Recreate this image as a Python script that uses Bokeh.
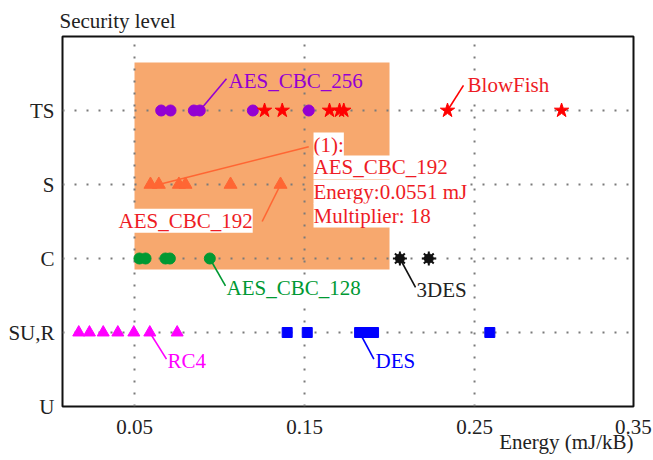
from bokeh.plotting import figure
from bokeh.models import Range1d, FixedTicker, Label, Title
from bokeh.embed import file_html
from bokeh.resources import INLINE

# ---------------- data ----------------
level_names = ["U", "SU,R", "C", "S", "TS"]
level_ticks = [0, 1, 2, 3, 4]
x_ticks = [0.05, 0.15, 0.25]
x_end_label = "0.35"

aes256_x = [0.0657, 0.0712, 0.0849, 0.0884, 0.1196, 0.1525]
aes256_lvl = 4
blowfish_x = [0.1265, 0.1369, 0.1647, 0.1706, 0.1731, 0.2341, 0.3012]
blowfish_lvl = 4
aes192_x = [0.0594, 0.0643, 0.0761, 0.0800, 0.1065, 0.1359]
aes192_lvl = 3
aes128_x = [0.0529, 0.0565, 0.0682, 0.0708, 0.0943]
aes128_lvl = 2
des3_x = [0.2061, 0.2231]
des3_lvl = 2
rc4_x = [0.0172, 0.0235, 0.0316, 0.0402, 0.0496, 0.0590, 0.0751]
rc4_lvl = 1
des_x = [0.1398, 0.1516, 0.1824, 0.1871, 0.1906, 0.2590]
des_lvl = 1

# highlighted region (energy range, level range)
region_x = [0.05, 0.2]
region_y = [1.85, 4.65]

x_start, x_end = 0.00765, 0.3435
y_start, y_end = 0, 5

SERIF = "Liberation Serif"
DARK = "#222222"

p = figure(width=653, height=460, output_backend="svg", toolbar_location=None,
           x_range=Range1d(x_start, x_end), y_range=Range1d(y_start, y_end),
           min_border_left=62, min_border_right=20, min_border_top=36, min_border_bottom=54,
           title="Security level")
p.title.align = "left"
p.title.text_font = SERIF
p.title.text_font_size = "21px"
p.title.text_font_style = "normal"
p.title.text_color = DARK
p.title.standoff = 8
p.title.offset = -3

xtitle = Title(text="Energy (mJ/kB)", align="right", vertical_align="bottom",
               text_font=SERIF, text_font_size="21px", text_font_style="normal",
               text_color=DARK, standoff=-18, offset=0)
p.add_layout(xtitle, "below")

p.background_fill_color = "white"
p.border_fill_color = "white"
p.outline_line_color = "#111111"
p.outline_line_width = 2
p.xgrid.visible = False
p.ygrid.visible = False

end_tick = x_end - 1e-6
p.xaxis.ticker = FixedTicker(ticks=x_ticks + [end_tick])
p.xaxis.major_label_overrides = {end_tick: x_end_label}
p.yaxis.ticker = FixedTicker(ticks=level_ticks)
p.yaxis.major_label_overrides = {t: n for t, n in zip(level_ticks, level_names)}
for ax in (p.xaxis[0], p.yaxis[0]):
    ax.axis_line_color = None
    ax.major_tick_line_color = None
    ax.minor_tick_line_color = None
    ax.major_label_text_font = SERIF
    ax.major_label_text_font_size = "21px"
    ax.major_label_text_color = DARK
p.xaxis.major_label_standoff = 7
p.yaxis.major_label_standoff = 2

# highlighted region
p.quad(left=[region_x[0]], right=[region_x[1]], bottom=[region_y[0]], top=[region_y[1]],
       fill_color="#F7A86E", line_color=None)

# dotted grid drawn above region
p.segment(x0=x_ticks, x1=x_ticks, y0=[y_start] * len(x_ticks), y1=[y_end] * len(x_ticks),
          line_color="#7a7a7a", line_width=2, line_dash="2 10")
hy = level_ticks[1:]
p.segment(x0=[x_start] * len(hy), x1=[x_end] * len(hy), y0=hy, y1=hy,
          line_color="#7a7a7a", line_width=2, line_dash="2 10")

# leader lines: (point x, point level, label-end x, label-end y, color)
leaders = [
    (aes256_x[3], aes256_lvl, 0.1041, 4.43, "#9400D3"),
    (aes192_x[1], aes192_lvl, 0.1525, 3.51, "#FF6633"),
    (aes192_x[5], aes192_lvl, 0.1251, 2.50, "#FF6633"),
    (aes128_x[4], aes128_lvl, 0.1035, 1.63, "#009933"),
    (des3_x[0], des3_lvl, 0.2153, 1.61, "#111111"),
    (blowfish_x[5], blowfish_lvl, 0.2435, 4.34, "#FF0000"),
    (rc4_x[5], rc4_lvl, 0.0688, 0.64, "#FF00FF"),
    (des_x[2], des_lvl, 0.1908, 0.64, "#0000FF"),
]
for px, py, lx, ly, c in leaders:
    p.segment(x0=[px], y0=[py], x1=[lx], y1=[ly], line_color=c, line_width=1.6)

# markers
p.scatter(aes256_x, [aes256_lvl] * len(aes256_x), marker="circle", size=11,
          fill_color="#9400D3", line_color="#9400D3")
p.scatter(blowfish_x, [blowfish_lvl] * len(blowfish_x), marker="star", size=15,
          fill_color="#FF0000", line_color="#FF0000")
p.scatter(aes192_x, [aes192_lvl] * len(aes192_x), marker="triangle", size=13,
          fill_color="#FF6633", line_color="#FF6633")
p.scatter(aes128_x, [aes128_lvl] * len(aes128_x), marker="circle", size=11,
          fill_color="#009933", line_color="#009933")
p.scatter(des3_x, [des3_lvl] * len(des3_x), marker="circle", size=9,
          fill_color="#111111", line_color="#111111")
p.scatter(des3_x, [des3_lvl] * len(des3_x), marker="asterisk", size=14,
          line_color="#111111", line_width=2)
p.scatter(rc4_x, [rc4_lvl] * len(rc4_x), marker="triangle", size=12,
          fill_color="#FF00FF", line_color="#FF00FF")
p.scatter(des_x, [des_lvl] * len(des_x), marker="square", size=10,
          fill_color="#0000FF", line_color="#0000FF")

def lab(x, y, text, color, bg=True, align="left", size="21px"):
    kw = dict(x=x, y=y, text=text, text_font=SERIF, text_font_size=size,
              text_color=color, text_baseline="middle", text_align=align)
    if bg:
        kw["background_fill_color"] = "white"
    p.add_layout(Label(**kw))

RED = "#EE1C25"
lab(0.1053, 4.40, "AES_CBC_256", "#9400D3", bg=False)
lab(0.2459, 4.35, "BlowFish", RED)
lab(0.1553, 3.54, "(1):", RED)
lab(0.1553, 3.23, "AES_CBC_192", RED)
lab(0.1553, 2.90, "Energy:0.0551 mJ", RED)
lab(0.1553, 2.58, "Multiplier: 18", RED)
lab(0.0406, 2.51, "AES_CBC_192", RED)
lab(0.1041, 1.60, "AES_CBC_128", "#009933")
lab(0.2159, 1.58, "3DES", DARK)
lab(0.0694, 0.62, "RC4", "#FF00FF")
lab(0.1918, 0.62, "DES", "#0000FF")

open("out.html", "w").write(file_html(p, INLINE))
